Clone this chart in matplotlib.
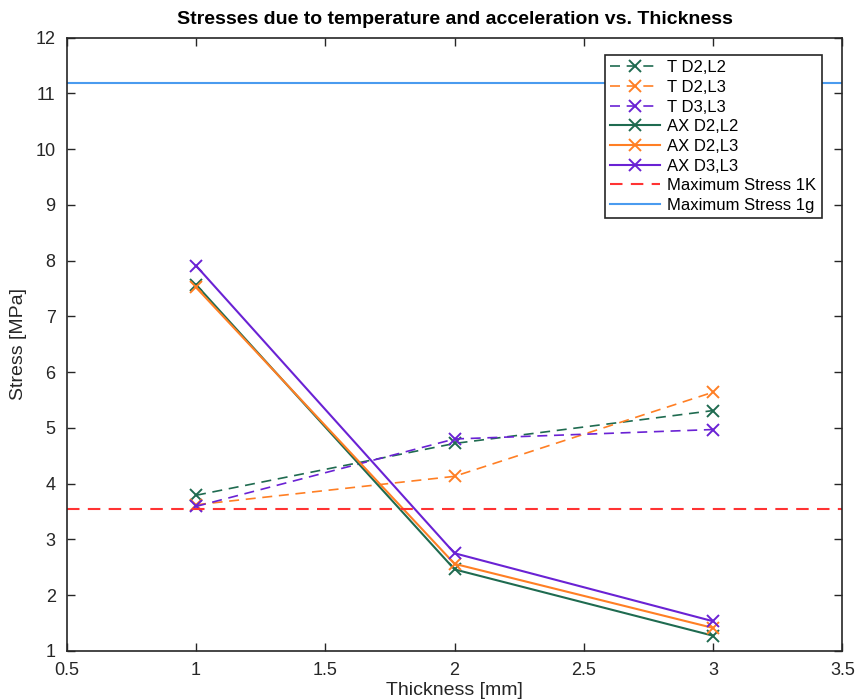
import matplotlib
matplotlib.use("Agg")
from matplotlib import pyplot as plt

plt.rcParams['font.family'] = ['Liberation Sans', 'DejaVu Sans']

thickness = [1, 2, 3]
t_d2l2 = [3.79, 4.72, 5.31]
t_d2l3 = [3.62, 4.13, 5.64]
t_d3l3 = [3.59, 4.80, 4.97]
ax_d2l2 = [7.57, 2.46, 1.27]
ax_d2l3 = [7.52, 2.56, 1.41]
ax_d3l3 = [7.91, 2.75, 1.53]
max_1k = 3.55
max_1g = 11.18

green = '#1f6b50'
orange = '#ff7f24'
purple = '#6a22d4'

fig = plt.figure(figsize=(8.56, 6.99), dpi=100)
ax = fig.add_axes([0.078, 0.069, 0.906, 0.877])

ax.plot(thickness, t_d2l2, '--x', color=green, lw=1.2, ms=9, mew=1.4, label='T D2,L2', dashes=(6, 4))
ax.plot(thickness, t_d2l3, '--x', color=orange, lw=1.2, ms=9, mew=1.4, label='T D2,L3', dashes=(6, 4))
ax.plot(thickness, t_d3l3, '--x', color=purple, lw=1.2, ms=9, mew=1.4, label='T D3,L3', dashes=(6, 4))
ax.plot(thickness, ax_d2l2, '-x', color=green, lw=1.5, ms=9, mew=1.4, label='AX D2,L2')
ax.plot(thickness, ax_d2l3, '-x', color=orange, lw=1.5, ms=9, mew=1.4, label='AX D2,L3')
ax.plot(thickness, ax_d3l3, '-x', color=purple, lw=1.5, ms=9, mew=1.4, label='AX D3,L3')
ax.axhline(max_1k, color='#ff3333', lw=1.5, ls=(0, (6, 4)), label='Maximum Stress 1K')
ax.axhline(max_1g, color='#4a9bef', lw=1.5, label='Maximum Stress 1g')

ax.set_xlim(0.5, 3.5)
ax.set_ylim(1, 12)
ax.set_xticks([0.5, 1, 1.5, 2, 2.5, 3, 3.5])
ax.set_xticklabels(['0.5', '1', '1.5', '2', '2.5', '3', '3.5'])
ax.set_yticks(range(1, 13))
ax.tick_params(direction='in', top=True, right=True, length=6, width=1, labelsize=13,
               colors='#262626', pad=8)
for s in ax.spines.values():
    s.set_color('#262626')
    s.set_linewidth(1.2)

ax.set_title('Stresses due to temperature and acceleration vs. Thickness', fontsize=14, fontweight='bold', pad=10)
ax.set_xlabel('Thickness [mm]', fontsize=14, color='#262626', labelpad=2)
ax.set_ylabel('Stress [MPa]', fontsize=14, color='#262626', labelpad=6)

leg = ax.legend(loc='upper right', bbox_to_anchor=(0.984, 0.985), fontsize=12, fancybox=False,
                framealpha=1, edgecolor='#262626', borderpad=0.3, labelspacing=0.28,
                handlelength=3.0, handletextpad=0.45)
leg.get_frame().set_linewidth(1.2)

fig.savefig('out.png', dpi=100)
